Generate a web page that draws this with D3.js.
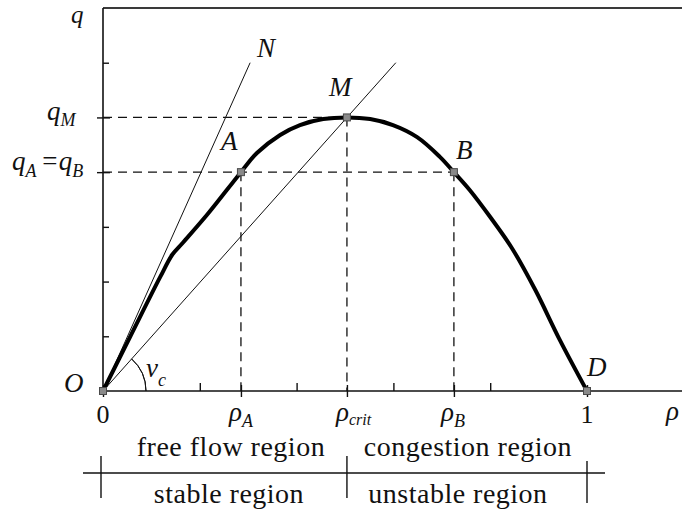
<!DOCTYPE html>
<html>
<head>
<meta charset="utf-8">
<script src="https://cdn.jsdelivr.net/npm/d3@7"></script>
<style>
  html, body { margin: 0; padding: 0; background: #fff; }
  svg { display: block; }
  text { font-family: "Liberation Serif", "Times New Roman", serif; fill: #111; }
  .math { font-style: italic; }
</style>
</head>
<body>
<svg id="chart" width="682" height="516"></svg>
<script>
// Flow–density (q–ρ) fundamental diagram.
// Density ρ (normalised to jam density = 1) and flow q (arbitrary units).
const curveRho = [0, 0.056, 0.118, 0.143, 0.165, 0.215, 0.285, 0.318, 0.366, 0.407, 0.455, 0.504, 0.552, 0.599, 0.649, 0.696, 0.725, 0.758, 0.800, 0.845, 0.893, 0.944, 1];
const curveQ   = [0, 0.99, 2.08, 2.49, 2.71, 3.22, 4.00, 4.35, 4.68, 4.86, 4.97, 5.00, 4.97, 4.86, 4.64, 4.28, 4.00, 3.67, 3.18, 2.61, 1.85, 0.93, 0];

// Marked states on the curve
const pointNames = ["O", "A", "M", "B", "D"];
const pointRho   = [0, 0.285, 0.504, 0.725, 1];
const pointQ     = [0, 4, 5, 4, 0];

// Straight lines through the origin: free-flow tangent (N) and ray to M
const tangentEnd = [0.304, 6.0];
const rayEnd     = [0.605, 6.0];

// Axis ticks
const xMinorTicks = [0.2, 0.4, 0.6, 0.8];
const xMajorTicks = [0, 0.285, 0.504, 0.725, 1];
const yMinorTicks = [1, 2, 3, 6];
const yMajorTicks = [4, 5];

// Region captions below the density axis
const regionTop    = ["free flow region", "congestion region"];
const regionBottom = ["stable region", "unstable region"];
const regionBounds = [0, 0.504, 1];

const svg = d3.select("#chart");
const x = d3.scaleLinear().domain([0, 1]).range([103, 587]);
const y = d3.scaleLinear().domain([0, 7]).range([391, 8]);
const xEnd = 682;

// Frame: top border and the two axes
svg.append("line").attr("x1", x(0)).attr("x2", xEnd).attr("y1", y(7)).attr("y2", y(7))
  .attr("stroke", "#3a3a3a").attr("stroke-width", 2);

const gx = svg.append("g").attr("transform", `translate(0,${y(0)})`);
gx.append("line").attr("x1", x(0)).attr("x2", xEnd).attr("stroke", "#111").attr("stroke-width", 1.6);
gx.append("g").call(d3.axisBottom(x).tickValues(xMinorTicks).tickSize(-8).tickFormat(""))
  .call(g => g.select(".domain").remove());
gx.append("g").call(d3.axisBottom(x).tickValues(xMajorTicks).tickSize(6).tickFormat(""))
  .call(g => g.select(".domain").remove());
gx.append("g").call(d3.axisBottom(x).tickValues(xMajorTicks).tickSize(-6).tickFormat(""))
  .call(g => g.select(".domain").remove());
gx.selectAll(".tick line").attr("stroke", "#111").attr("stroke-width", 1.4);

const gy = svg.append("g").attr("transform", `translate(${x(0)},0)`);
gy.append("line").attr("y1", y(0)).attr("y2", y(7)).attr("stroke", "#111").attr("stroke-width", 1.6);
gy.append("g").call(d3.axisLeft(y).tickValues(yMinorTicks).tickSize(-6).tickFormat(""))
  .call(g => g.select(".domain").remove());
gy.append("g").call(d3.axisLeft(y).tickValues(yMajorTicks).tickSize(6).tickFormat(""))
  .call(g => g.select(".domain").remove());
gy.append("g").call(d3.axisLeft(y).tickValues(yMajorTicks).tickSize(-7).tickFormat(""))
  .call(g => g.select(".domain").remove());
gy.selectAll(".tick line").attr("stroke", "#111").attr("stroke-width", 1.4);

// Dashed guides from A, M, B to the axes
const dash = "9,6";
const guides = svg.append("g").attr("stroke", "#111").attr("stroke-width", 1.3).attr("stroke-dasharray", dash);
guides.append("line").attr("x1", x(0)).attr("x2", x(pointRho[2])).attr("y1", y(pointQ[2])).attr("y2", y(pointQ[2]));
guides.append("line").attr("x1", x(0)).attr("x2", x(pointRho[3])).attr("y1", y(pointQ[1])).attr("y2", y(pointQ[1]));
[1, 2, 3].forEach(i => {
  guides.append("line").attr("x1", x(pointRho[i])).attr("x2", x(pointRho[i]))
    .attr("y1", y(pointQ[i])).attr("y2", y(0));
});

// Thin rays from the origin
const thin = svg.append("g").attr("stroke", "#111").attr("stroke-width", 1);
thin.append("line").attr("x1", x(0)).attr("y1", y(0)).attr("x2", x(tangentEnd[0])).attr("y2", y(tangentEnd[1]));
thin.append("line").attr("x1", x(0)).attr("y1", y(0)).attr("x2", x(rayEnd[0])).attr("y2", y(rayEnd[1]));

// Angle arc for the critical speed v_c
const rayAngle = Math.atan2(y(0) - y(rayEnd[1]), x(rayEnd[0]) - x(0));
svg.append("path")
  .attr("transform", `translate(${x(0)},${y(0)})`)
  .attr("d", d3.arc()({ innerRadius: 43, outerRadius: 43, startAngle: Math.PI / 2 - rayAngle, endAngle: Math.PI / 2 }))
  .attr("fill", "none").attr("stroke", "#111").attr("stroke-width", 1);

// Fundamental diagram curve
const curveData = curveRho.map((r, i) => [r, curveQ[i]]);
svg.append("path")
  .datum(curveData)
  .attr("d", d3.line().x(d => x(d[0])).y(d => y(d[1])).curve(d3.curveCatmullRom.alpha(0.5)))
  .attr("fill", "none").attr("stroke", "#000").attr("stroke-width", 4)
  .attr("stroke-linejoin", "round");

// Marked states
svg.append("g").selectAll("rect").data(pointNames).join("rect")
  .attr("x", (d, i) => x(pointRho[i]) - 3.5)
  .attr("y", (d, i) => y(pointQ[i]) - 3.5)
  .attr("width", 7).attr("height", 7)
  .attr("fill", "#8a8a8a").attr("stroke", "#4a4a4a").attr("stroke-width", 1);

// Text helpers
function label(xp, yp, parts, opts = {}) {
  const t = svg.append("text").attr("x", xp).attr("y", yp)
    .attr("font-size", opts.size || 27)
    .attr("text-anchor", opts.anchor || "start");
  if (opts.italic !== false) t.attr("class", "math");
  if (opts.spacing) t.attr("letter-spacing", opts.spacing);
  parts.forEach(p => {
    const s = t.append("tspan").text(p.t);
    if (p.sub) s.attr("font-size", p.size || 18).attr("dy", p.dy || 7);
    if (p.up) s.attr("dy", -p.up);
    if (p.dx) s.attr("dx", p.dx);
  });
  return t;
}

// Axis titles
label(71, 23, [{ t: "q" }], { size: 25 });
label(666, 420, [{ t: "ρ" }]);

// Flow labels on the q axis
label(47, 120, [{ t: "q" }, { t: "M", sub: true, dy: 6 }]);
label(12, 170, [{ t: "q" }, { t: "A", sub: true, dy: 7 }, { t: "=", up: 7, dx: 4 }, { t: "q" }, { t: "B", sub: true, dy: 7 }]);

// Density labels on the ρ axis
label(x(0), 423, [{ t: "0" }], { anchor: "middle", italic: false, size: 26 });
label(x(1), 423, [{ t: "1" }], { anchor: "middle", italic: false, size: 26 });
label(229, 421, [{ t: "ρ" }, { t: "A", sub: true, dy: 6 }]);
label(336, 421, [{ t: "ρ" }, { t: "crit", sub: true, dy: 4, size: 16 }]);
label(441, 421, [{ t: "ρ" }, { t: "B", sub: true, dy: 6 }]);

// Point and line labels
label(64, 392, [{ t: "O" }]);
label(221, 150, [{ t: "A" }]);
label(329, 96, [{ t: "M" }]);
label(456, 159, [{ t: "B" }]);
label(587, 376, [{ t: "D" }]);
label(257, 57, [{ t: "N" }]);
label(146, 377, [{ t: "v" }, { t: "c", sub: true, dy: 9 }]);

// Region captions and bracket
const rx = i => (x(regionBounds[i]) + x(regionBounds[i + 1])) / 2;
const topShift = [6, 1];
const bottomShift = [4, -9];
const captionStyle = { anchor: "middle", italic: false, size: 28, spacing: 0.5 };
regionTop.forEach((s, i) => label(rx(i) + topShift[i], 456, [{ t: s }], captionStyle));
regionBottom.forEach((s, i) => label(rx(i) + bottomShift[i], 503, [{ t: s }], captionStyle));

const bracket = svg.append("g").attr("stroke", "#111").attr("stroke-width", 1.4);
bracket.append("line").attr("x1", 83).attr("x2", 605).attr("y1", 473).attr("y2", 473);
regionBounds.forEach((b, i) => {
  bracket.append("line").attr("x1", x(b) - (i === 0 ? 2 : 0)).attr("x2", x(b) - (i === 0 ? 2 : 0))
    .attr("y1", i === 2 ? 461 : 456).attr("y2", i === 2 ? 503 : 498);
});
</script>
</body>
</html>
